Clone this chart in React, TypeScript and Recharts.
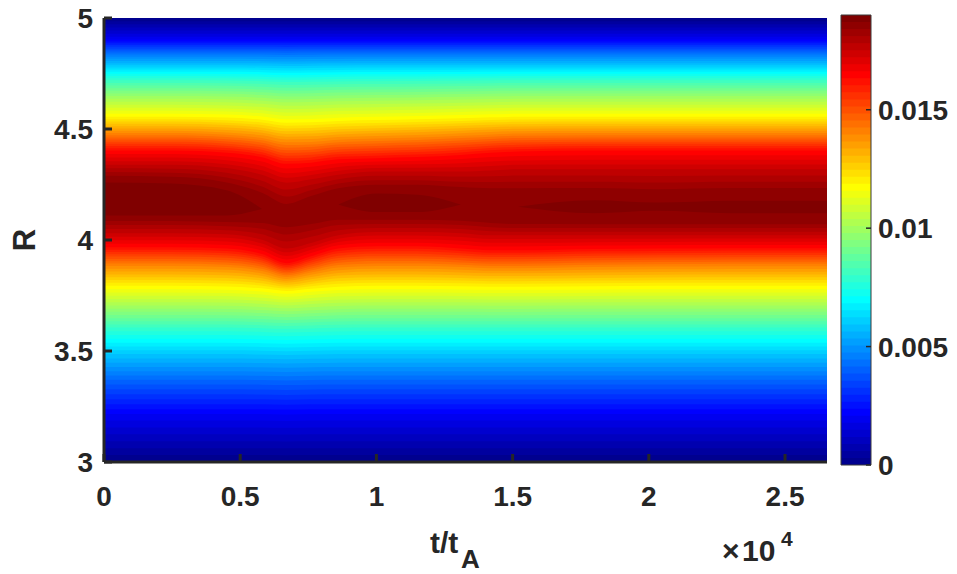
import React from "react";
import { ComposedChart, Area, XAxis, YAxis, ReferenceArea } from "recharts";

// time samples of the contour map, in units of 1e4 t_A
const tCols = [0, 0.25, 0.45, 0.58, 0.67, 0.76, 0.86, 1.0, 1.15, 1.31, 1.42, 1.52, 1.8, 2.03, 2.3, 2.654];

// contour values (x 1e-3) whose R position was read on each side of the peak
const levels = [2, 4, 6, 8, 10, 12, 14, 16.3, 17.5, 18.4, 18.7];

// R of each contour below the peak (one row per level, one entry per time sample)
const lowerEdges: (number | null)[][] = [
  [3.21, 3.21, 3.21, 3.21, 3.208, 3.21, 3.21, 3.21, 3.21, 3.21, 3.21, 3.21, 3.21, 3.21, 3.21, 3.21],
  [3.36, 3.36, 3.36, 3.359, 3.357, 3.359, 3.36, 3.36, 3.36, 3.36, 3.36, 3.36, 3.36, 3.36, 3.36, 3.36],
  [3.49, 3.49, 3.49, 3.488, 3.486, 3.488, 3.49, 3.49, 3.49, 3.49, 3.49, 3.49, 3.49, 3.49, 3.49, 3.49],
  [3.605, 3.605, 3.605, 3.602, 3.599, 3.601, 3.604, 3.605, 3.605, 3.605, 3.605, 3.605, 3.605, 3.605, 3.605, 3.605],
  [3.7, 3.7, 3.699, 3.694, 3.688, 3.693, 3.698, 3.7, 3.7, 3.7, 3.699, 3.699, 3.7, 3.7, 3.7, 3.7],
  [3.8, 3.8, 3.797, 3.788, 3.776, 3.786, 3.796, 3.8, 3.8, 3.798, 3.796, 3.796, 3.798, 3.8, 3.8, 3.8],
  [3.885, 3.885, 3.88, 3.862, 3.835, 3.855, 3.878, 3.885, 3.885, 3.88, 3.875, 3.875, 3.88, 3.882, 3.884, 3.884],
  [3.966, 3.966, 3.96, 3.935, 3.894, 3.925, 3.96, 3.97, 3.97, 3.96, 3.952, 3.952, 3.958, 3.96, 3.962, 3.962],
  [4.03, 4.03, 4.025, 4.0, 3.96, 3.985, 4.02, 4.035, 4.035, 4.03, 4.02, 4.02, 4.02, 4.02, 4.02, 4.02],
  [4.085, 4.085, 4.08, 4.075, 4.055, 4.07, 4.09, 4.09, 4.09, 4.085, 4.075, 4.07, 4.07, 4.07, 4.07, 4.07],
  [4.11, 4.11, 4.11, null, null, null, null, 4.125, 4.125, null, null, null, 4.12, 4.13, 4.12, 4.12],
];

// R of each contour above the peak
const upperEdges: (number | null)[][] = [
  [4.905, 4.905, 4.905, 4.905, 4.905, 4.905, 4.905, 4.905, 4.905, 4.905, 4.905, 4.905, 4.905, 4.905, 4.905, 4.905],
  [4.85, 4.85, 4.85, 4.85, 4.849, 4.85, 4.85, 4.85, 4.85, 4.85, 4.85, 4.85, 4.85, 4.85, 4.85, 4.85],
  [4.785, 4.785, 4.785, 4.784, 4.782, 4.783, 4.784, 4.785, 4.785, 4.785, 4.785, 4.785, 4.785, 4.785, 4.785, 4.785],
  [4.72, 4.72, 4.719, 4.716, 4.712, 4.713, 4.715, 4.716, 4.717, 4.718, 4.719, 4.72, 4.72, 4.72, 4.72, 4.72],
  [4.64, 4.64, 4.638, 4.632, 4.625, 4.626, 4.63, 4.632, 4.634, 4.637, 4.639, 4.64, 4.64, 4.64, 4.64, 4.64],
  [4.55, 4.55, 4.546, 4.536, 4.522, 4.524, 4.53, 4.534, 4.538, 4.543, 4.547, 4.549, 4.55, 4.55, 4.55, 4.55],
  [4.48, 4.48, 4.472, 4.458, 4.438, 4.44, 4.45, 4.455, 4.46, 4.468, 4.474, 4.478, 4.48, 4.48, 4.48, 4.48],
  [4.405, 4.405, 4.395, 4.375, 4.345, 4.35, 4.365, 4.37, 4.375, 4.385, 4.395, 4.4, 4.405, 4.405, 4.405, 4.405],
  [4.34, 4.34, 4.325, 4.295, 4.26, 4.275, 4.295, 4.31, 4.31, 4.31, 4.315, 4.32, 4.32, 4.32, 4.32, 4.32],
  [4.29, 4.285, 4.26, 4.215, 4.165, 4.2, 4.235, 4.25, 4.25, 4.24, 4.235, 4.235, 4.235, 4.23, 4.235, 4.235],
  [4.26, 4.255, 4.225, null, null, null, null, 4.21, 4.205, null, null, null, 4.18, 4.17, 4.178, 4.178],
];

// ridge of the profile at each time sample
const peakR = [4.185, 4.18, 4.165, 4.14, 4.11, 4.13, 4.16, 4.165, 4.165, 4.16, 4.155, 4.15, 4.15, 4.15, 4.148, 4.148];
const peakValue = [19.0, 19.0, 18.95, 18.69, 18.55, 18.62, 18.69, 18.87, 18.86, 18.69, 18.64, 18.69, 18.8, 18.74, 18.79, 18.79];

const xTicks = [0, 0.5, 1, 1.5, 2, 2.5];
const yTicks = [3, 3.5, 4, 4.5, 5];
const cbarTicks = [0, 0.005, 0.01, 0.015];

const CMAX = 0.019;
const NCOLORS = 64;
const R_MIN = 3;
const R_MAX = 5;
const T_MAX = 2.654;

const FONT = "'Liberation Sans', Arial, sans-serif";
const INK = "#262626";
const TICK_FS = 28;

// MATLAB jet(64)
function jetColor(i: number) {
  const n = 16;
  const u: number[] = [];
  for (let k = 1; k <= n; k++) u.push(k / n);
  for (let k = 1; k < n; k++) u.push(1);
  for (let k = n; k >= 1; k--) u.push(k / n);
  const g0 = 8;
  const idx = i + 1;
  const pick = (off: number) => {
    const p = idx - off;
    return p >= 1 && p <= u.length ? u[p - 1] : 0;
  };
  const r = pick(g0 + n);
  const g = pick(g0);
  const b = pick(g0 - n);
  return `rgb(${Math.round(r * 255)},${Math.round(g * 255)},${Math.round(b * 255)})`;
}

// R where the profile of column j crosses value c (x1e-3) on one side
function crossing(j: number, c: number, edges: (number | null)[][], rEnd: number) {
  const pts: [number, number][] = [[rEnd, 0]];
  levels.forEach((lv, li) => {
    const r = edges[li][j];
    if (r != null && lv < peakValue[j]) pts.push([r, lv]);
  });
  pts.push([peakR[j], peakValue[j]]);
  for (let i = 0; i < pts.length - 1; i++) {
    const [r0, v0] = pts[i];
    const [r1, v1] = pts[i + 1];
    if (c >= v0 && c <= v1) return r0 + ((c - v0) / (v1 - v0)) * (r1 - r0);
  }
  return null;
}

function band(j: number, k: number): [number, number] | null {
  const c = (k * CMAX * 1000) / NCOLORS;
  if (c < peakValue[j]) {
    const lo = crossing(j, c, lowerEdges, R_MIN);
    const hi = crossing(j, c, upperEdges, R_MAX);
    if (lo != null && hi != null) return [lo, hi];
  }
  const near = [j - 1, j + 1].some((q) => q >= 0 && q < tCols.length && c < peakValue[q]);
  return near ? [peakR[j], peakR[j]] : null;
}

const bins = Array.from({ length: NCOLORS }, (_, k) => k);

const rows = tCols.map((t, j) => {
  const row: Record<string, any> = { t };
  bins.forEach((k) => {
    row[`b${k}`] = k === 0 ? [R_MIN, R_MAX] : band(j, k);
  });
  return row;
});

// colour bar: each colour fills from its lower bound to the top
const cbarRows = [0, 1].map((x) => {
  const row: Record<string, any> = { x };
  bins.forEach((k) => {
    row[`c${k}`] = [(k * CMAX) / NCOLORS, CMAX];
  });
  return row;
});

const fmt = (v: number) => String(v);

function LeftTick(props: any) {
  const { x, y, payload } = props;
  return (
    <g>
      <line x1={x} y1={y} x2={x + 8} y2={y} stroke={INK} strokeWidth={3} />
      <text x={x - 11} y={y + 10} textAnchor="end" fontFamily={FONT} fontWeight="bold" fontSize={TICK_FS} fill={INK}>
        {fmt(payload.value)}
      </text>
    </g>
  );
}

function BottomTick(props: any) {
  const { x, y, payload } = props;
  return (
    <g>
      <line x1={x} y1={y} x2={x} y2={y - 8} stroke={INK} strokeWidth={3} />
      <text x={x} y={y + 44} textAnchor="middle" fontFamily={FONT} fontWeight="bold" fontSize={TICK_FS} fill={INK}>
        {fmt(payload.value)}
      </text>
    </g>
  );
}

function CbarTick(props: any) {
  const { x, y, payload } = props;
  return (
    <g>
      <line x1={x - 5} y1={y} x2={x} y2={y} stroke={INK} strokeWidth={1.5} />
      <text x={x + 7} y={y + 10} textAnchor="start" fontFamily={FONT} fontWeight="bold" fontSize={TICK_FS} fill={INK}>
        {fmt(payload.value)}
      </text>
    </g>
  );
}

const layer: React.CSSProperties = { position: "absolute", left: 0, top: 0 };

export default function App() {
  return (
    <div style={{ position: "absolute", left: 0, top: 0, width: 957, height: 574, background: "#fff" }}>
      <div style={layer}>
        <ComposedChart width={957} height={574} data={rows} margin={{ top: 18, right: 130, bottom: 52, left: 44 }}>
          {bins.map((k) => (
            <Area
              key={k}
              dataKey={`b${k}`}
              type="monotone"
              stroke="none"
              fill={jetColor(k)}
              fillOpacity={1}
              dot={false}
              activeDot={false}
              connectNulls={false}
              isAnimationActive={false}
            />
          ))}
          <XAxis
            dataKey="t"
            type="number"
            domain={[0, T_MAX]}
            ticks={xTicks}
            allowDataOverflow
            height={60}
            tickSize={0}
            tickMargin={0}
            tick={<BottomTick />}
            axisLine={{ stroke: INK, strokeWidth: 3 }}
            interval={0}
          />
          <YAxis
            type="number"
            domain={[R_MIN, R_MAX]}
            ticks={yTicks}
            allowDataOverflow
            width={60}
            tickSize={0}
            tickMargin={0}
            tick={<LeftTick />}
            axisLine={{ stroke: INK, strokeWidth: 3 }}
            interval={0}
          />
        </ComposedChart>
      </div>
      <div style={layer}>
        <ComposedChart width={957} height={574} data={cbarRows} margin={{ top: 15, right: 6, bottom: 109, left: 841 }}>
          {bins.map((k) => (
            <Area
              key={k}
              dataKey={`c${k}`}
              type="linear"
              stroke="none"
              fill={jetColor(k)}
              fillOpacity={1}
              dot={false}
              activeDot={false}
              isAnimationActive={false}
            />
          ))}
          <ReferenceArea x1={0} x2={1} y1={0} y2={CMAX} fill="none" stroke="#3a3a3a" strokeWidth={1} ifOverflow="visible" />
          <XAxis dataKey="x" type="number" domain={[0, 1]} hide />
          <YAxis
            orientation="right"
            type="number"
            domain={[0, CMAX]}
            ticks={cbarTicks}
            allowDataOverflow
            width={80}
            tickSize={0}
            tickMargin={0}
            tick={<CbarTick />}
            axisLine={false}
            interval={0}
          />
        </ComposedChart>
      </div>
      <svg width={957} height={574} style={{ ...layer, pointerEvents: "none" }}>
        <text x={35} y={240} transform="rotate(-90 35 240)" textAnchor="middle" fontFamily={FONT} fontWeight="bold" fontSize={31} fill={INK}>
          R
        </text>
        <text x={430} y={553} fontFamily={FONT} fontWeight="bold" fontSize={30} fill={INK}>
          t/t
          <tspan x={461} y={568} fontSize={26}>A</tspan>
        </text>
        <text fontFamily={FONT} fontWeight="bold" fontSize={30} fill={INK}>
          <tspan x={722} y={561}>×</tspan>
          <tspan x={742} y={561}>10</tspan>
          <tspan x={781} y={546} fontSize={21}>4</tspan>
        </text>
      </svg>
    </div>
  );
}
